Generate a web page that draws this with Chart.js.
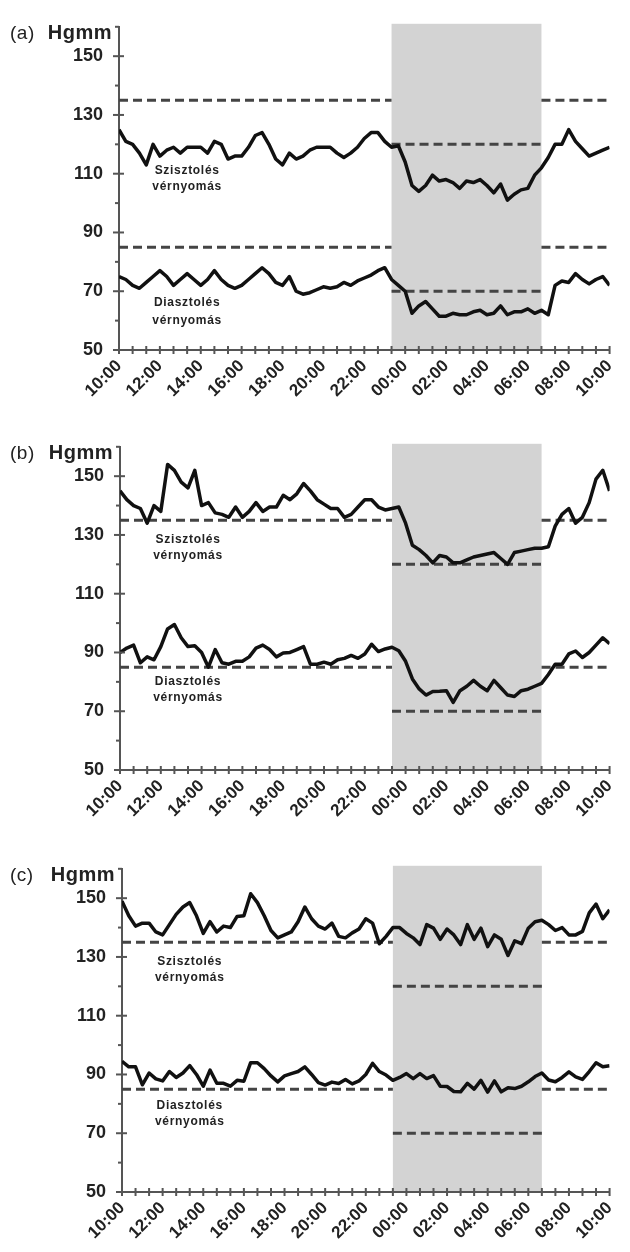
<!DOCTYPE html>
<html>
<head>
<meta charset="utf-8">
<script src="https://cdn.jsdelivr.net/npm/chart.js@4/dist/chart.umd.min.js"></script>
<style>
    body { margin: 0; background: #fff; width: 630px; height: 1252px; position: relative; overflow: hidden; }
    .panel { position: absolute; left: 0; width: 630px; height: 415px; }
</style>
</head>
<body>
<div class="panel" style="top:0px"><canvas id="chartA" width="630" height="415"></canvas></div>
<div class="panel" style="top:420px"><canvas id="chartB" width="630" height="415"></canvas></div>
<div class="panel" style="top:842px"><canvas id="chartC" width="630" height="415"></canvas></div>
<script>
// Mérések 20 percenként, 10:00-tól másnap 10:00-ig (percben 10:00-tól)
const readingMinutes = Array.from({ length: 73 }, (_, k) => k * 20);

// Határértékek (Hgmm): nappal / éjjel [szisztolés, diasztolés]
const dayLimits = [135, 85];
const nightLimits = [120, 70];
// Éjszakai szakasz (percben 10:00-tól): 23:20 - 06:40
const nightWindow = [800, 1240];

// (a)
const sysA = [125, 121, 120, 117, 113, 120, 116, 118, 119, 117, 119, 119, 119, 117, 121, 120, 115, 116, 116, 119,
    123, 124, 120, 115, 113, 117, 115, 116, 118, 119, 119, 119, 117, 115.5, 117, 119, 122, 124, 124, 121,
    119, 119.5, 114, 106, 104, 106, 109.5, 107.5, 108, 107, 105, 107.5, 107, 108, 106, 103.5, 106.5, 101, 103, 104.5,
    105, 109.5, 112, 115.5, 120, 120, 125, 121, 118.5, 116, 117, 118, 119];
const diaA = [75, 74, 72, 71, 73, 75, 77, 75, 72, 74, 76, 74, 72, 74, 77, 74, 72, 71, 72, 74,
    76, 78, 76, 73, 72, 75, 70, 69, 69.5, 70.5, 71.5, 71, 71.5, 73, 72, 73.5, 74.5, 75.5, 77, 78,
    74, 72, 70, 62.5, 65, 66.5, 64, 61.5, 61.5, 62.5, 62, 62, 63, 63.5, 62, 62.5, 65, 62, 63, 63,
    64, 62.5, 63.5, 62, 72, 73.5, 73, 76, 74, 72.5, 74, 75, 72];

// (b)
const sysB = [145, 142, 140, 139, 134, 140, 138, 154, 152, 148, 146, 152, 140, 141, 137.5, 137, 136, 139.5, 136, 138,
    141, 138, 139.5, 139.5, 143.5, 142, 144, 147.5, 145, 142, 140.5, 139, 139, 136, 137, 139.5, 142, 142, 139.5, 138.5,
    139, 139.5, 134, 126.5, 125, 123, 120.5, 123, 122.5, 120.5, 120.5, 121.5, 122.5, 123, 123.5, 124, 122, 120, 124, 124.5,
    125, 125.5, 125.5, 126, 133, 137, 139, 134, 136, 141, 149, 152, 145];
const diaB = [90, 91.5, 92.5, 86.5, 88.5, 87.5, 92, 98, 99.5, 95, 92, 92.3, 90, 85, 91, 86.5, 86, 87, 87, 88.5,
    91.5, 92.5, 91, 88.5, 89.8, 90, 91, 92, 86, 86, 86.7, 86, 87.5, 88, 89, 88, 89.5, 92.8, 90.3, 91.2,
    91.8, 90.6, 87, 81, 77.6, 75.5, 76.7, 76.8, 77, 73, 77, 78.5, 80.5, 78.5, 77, 80.5, 78, 75.5, 75, 77,
    77.5, 78.5, 79.5, 82.5, 86, 86, 89.5, 90.5, 88.3, 90, 92.5, 95, 93];

// (c)
const sysC = [149, 144, 140.5, 141.5, 141.5, 138.5, 137.5, 141, 144.5, 147, 148.5, 144, 138, 142, 138.5, 140.5, 140, 143.8, 144, 151.5,
    148.5, 144, 139, 136.5, 137.5, 138.5, 142, 147, 143, 140.5, 139.5, 141.5, 137, 136.5, 138.2, 139.5, 143, 141.5, 134.5, 137,
    140, 140, 138, 136.5, 134.2, 141, 139.8, 136, 139.5, 137.5, 134.2, 141, 136, 139.8, 133.5, 137.5, 136, 130.5, 135.5, 134.5,
    139.8, 142, 142.5, 141, 139, 140, 137.5, 137.5, 138.7, 145, 148, 143, 146];
const diaC = [94.5, 92.6, 92.6, 86.5, 90.5, 88.5, 87.8, 91, 89, 90.5, 93, 90, 86, 91.5, 87, 87, 86, 88, 87.7, 94,
    94, 92, 89.5, 87.5, 89.5, 90.3, 91, 92.6, 90, 87.2, 86.4, 87.4, 86.9, 88.3, 86.8, 87.8, 90, 93.8, 91, 89.8,
    88, 89, 90.3, 88.6, 90.3, 88.6, 89.6, 86, 85.9, 84.2, 84.1, 87, 85, 88, 84, 87.8, 84.1, 85.5, 85.2, 86,
    87.5, 89.3, 90.5, 88.1, 87.5, 89, 90.9, 89.2, 88.3, 91, 94, 92.6, 93];

// Feliratok
const sysLabel = ['Szisztolés', 'vérnyomás'];
const diaLabel = ['Diasztolés', 'vérnyomás'];
const labelMinute = 200;

const panels = [
    { id: 'chartA', tag: '(a)', sys: sysA, dia: diaA, left: 119, right: 619, sysLabelY: [111, 105.5], diaLabelY: [66, 60] },
    { id: 'chartB', tag: '(b)', sys: sysB, dia: diaB, left: 120, right: 621, sysLabelY: [128.5, 123], diaLabelY: [80, 74.5] },
    { id: 'chartC', tag: '(c)', sys: sysC, dia: diaC, left: 122, right: 623, sysLabelY: [128.5, 123], diaLabelY: [79.5, 74] }
];

const FONT = '"Liberation Sans", Arial, sans-serif';

function idoFelirat(perc) {
    const total = (600 + perc) % 1440;
    const h = Math.floor(total / 60);
    const m = total % 60;
    return String(h).padStart(2, '0') + ':' + String(m).padStart(2, '0');
}

function szakasz(from, to, value) {
    return [{ x: from, y: value }, { x: to, y: value }];
}

function dashed(data) {
    return {
        data: data, borderColor: '#444', borderWidth: 3, borderDash: [9, 5],
        borderCapStyle: 'butt', pointRadius: 0, tension: 0
    };
}

const decorPlugin = {
    id: 'decor',
    beforeDraw(chart, args, opts) {
        const { ctx, chartArea } = chart;
        const x = chart.scales.x;
        ctx.save();
        ctx.fillStyle = '#d3d3d3';
        const x0 = x.getPixelForValue(nightWindow[0]);
        const x1 = x.getPixelForValue(nightWindow[1]);
        ctx.fillRect(x0, chartArea.top - 3, x1 - x0, chartArea.bottom - chartArea.top + 3);
        ctx.restore();
    },
    afterDraw(chart, args, opts) {
        const { ctx, chartArea } = chart;
        const x = chart.scales.x;
        const y = chart.scales.y;
        const p = opts.panel;
        ctx.save();
        ctx.strokeStyle = '#555';
        ctx.lineWidth = 2;
        // tengely toldások
        ctx.beginPath();
        ctx.moveTo(chartArea.left - 4, chartArea.bottom);
        ctx.lineTo(chartArea.left, chartArea.bottom);
        ctx.moveTo(chartArea.left, chartArea.bottom);
        ctx.lineTo(chartArea.left, chartArea.bottom + 3);
        ctx.stroke();
        // y osztások
        y.ticks.forEach(t => {
            const py = y.getPixelForValue(t.value);
            const major = (t.value - 50) % 20 === 0;
            ctx.beginPath();
            if (major) {
                ctx.moveTo(chartArea.left - 6, py);
                ctx.lineTo(chartArea.left + 5, py);
            } else {
                ctx.moveTo(chartArea.left - 4, py);
                ctx.lineTo(chartArea.left, py);
            }
            ctx.stroke();
        });
        // x osztások
        x.ticks.forEach(t => {
            const px = x.getPixelForValue(t.value);
            ctx.beginPath();
            ctx.moveTo(px, chartArea.bottom - 4);
            ctx.lineTo(px, chartArea.bottom + 4);
            ctx.stroke();
        });

        // panel felirat
        ctx.fillStyle = '#222';
        ctx.textBaseline = 'alphabetic';
        ctx.font = 'bold 20px ' + FONT;
        ctx.letterSpacing = '0.5px';
        ctx.textAlign = 'right';
        ctx.fillText('Hgmm', chartArea.left - 7, chartArea.top + 12);
        ctx.font = '19px ' + FONT;
        ctx.textAlign = 'left';
        ctx.fillText(p.tag, 10, chartArea.top + 12);

        // görbe feliratok
        ctx.font = 'bold 12px ' + FONT;
        ctx.letterSpacing = '0.7px';
        ctx.textAlign = 'center';
        ctx.textBaseline = 'middle';
        const lx = x.getPixelForValue(labelMinute);
        sysLabel.forEach((s, i) => ctx.fillText(s, lx, y.getPixelForValue(p.sysLabelY[i])));
        diaLabel.forEach((s, i) => ctx.fillText(s, lx, y.getPixelForValue(p.diaLabelY[i])));
        ctx.restore();
    }
};

function rajzol(p) {
    const ctx = document.getElementById(p.id).getContext('2d');
    const datasets = [
        {
            data: p.sys.map((v, k) => ({ x: readingMinutes[k], y: v })),
            borderColor: '#111', borderWidth: 3.5, borderJoinStyle: 'round', pointRadius: 0, tension: 0
        },
        {
            data: p.dia.map((v, k) => ({ x: readingMinutes[k], y: v })),
            borderColor: '#111', borderWidth: 3.5, borderJoinStyle: 'round', pointRadius: 0, tension: 0
        }
    ];
    dayLimits.forEach(v => {
        datasets.push(dashed(szakasz(0, nightWindow[0], v)));
        datasets.push(dashed(szakasz(nightWindow[1], 1440, v)));
    });
    nightLimits.forEach(v => {
        datasets.push(dashed(szakasz(nightWindow[0], nightWindow[1], v)));
    });

    return new Chart(ctx, {
        type: 'line',
        data: { datasets: datasets },
        options: {
            responsive: false,
            animation: false,
            layout: { padding: { top: 23, right: 630 - p.right, left: 0, bottom: 0 } },
            plugins: {
                legend: { display: false },
                tooltip: { enabled: false },
                decor: { panel: p }
            },
            scales: {
                x: {
                    type: 'linear', min: 0, max: 1440,
                    grid: { display: false, drawTicks: false },
                    border: { display: true, color: '#555', width: 2 },
                    ticks: {
                        stepSize: 40, autoSkip: false, maxTicksLimit: 100,
                        minRotation: 45, maxRotation: 45, padding: 6,
                        color: '#222', font: { family: FONT, size: 17, weight: 'bold' },
                        callback: v => (v % 120 === 0 ? idoFelirat(v) : '')
                    },
                    afterFit: s => { s.height = 65; }
                },
                y: {
                    min: 50, max: 160,
                    grid: { display: false, drawTicks: false },
                    border: { display: true, color: '#555', width: 2 },
                    ticks: {
                        stepSize: 10, autoSkip: false, padding: 16,
                        color: '#222', font: { family: FONT, size: 18, weight: 'bold' },
                        callback: v => ((v - 50) % 20 === 0 && v < 160 ? v : '')
                    },
                    afterFit: s => { s.width = p.left; }
                }
            }
        },
        plugins: [decorPlugin]
    });
}

panels.forEach(rajzol);
</script>
</body>
</html>
